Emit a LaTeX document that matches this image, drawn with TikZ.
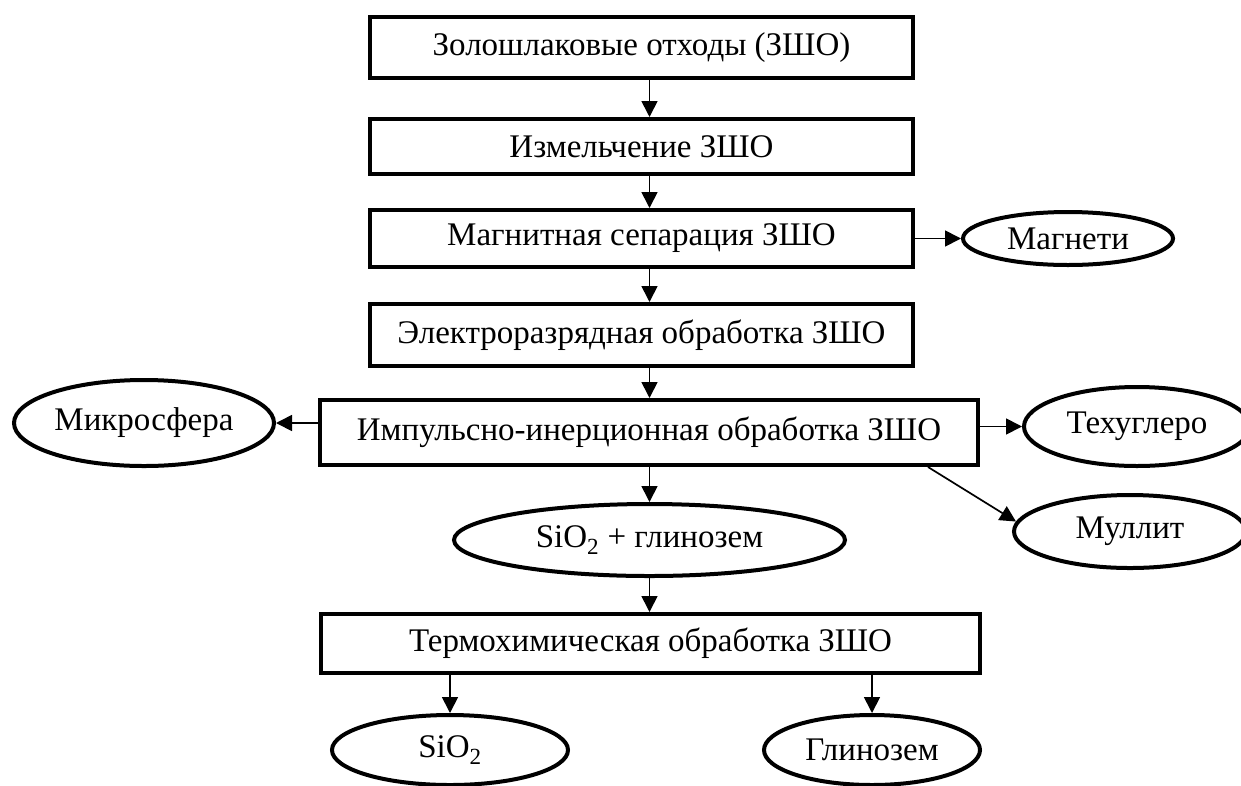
\documentclass[tikz,border=0pt]{standalone}
\usepackage{fontspec}
\setmainfont{Liberation Serif}
\usetikzlibrary{shapes.geometric,arrows.meta}
\tikzset{
  txt/.style={font=\fontsize{33}{40}\selectfont, inner sep=0pt},
  box/.style={txt, draw, line width=4pt, rectangle},
  oval/.style={txt, draw, line width=4pt, ellipse},
  arr/.style={line width=1.7pt, -{Triangle[length=16pt,width=16pt]}},
}
\begin{document}
\begin{tikzpicture}[x=1pt,y=-1pt]
\useasboundingbox (0,0) rectangle (1241,785);
\clip (0,0) rectangle (1241,785);
% main column
\node[box, minimum width=543pt, minimum height=61pt] (b1) at (641.5,47.5) {Золошлаковые отходы (ЗШО)};
\node[box, minimum width=543pt, minimum height=55pt] (b2) at (641.5,146.5) {Измельчение ЗШО};
\node[box, minimum width=543pt, minimum height=57pt] (b3) at (641.5,238.5) {Магнитная сепарация ЗШО};
\node[box, minimum width=543pt, minimum height=62pt] (b4) at (641.5,335) {Электроразрядная обработка ЗШО};
\node[box, minimum width=658pt, minimum height=65pt] (b5) at (649,432.5) {Импульсно-инерционная обработка ЗШО};
\node[oval, minimum width=391pt, minimum height=72pt] (sg) at (649.5,540) {SiO\textsubscript{2} + глинозем};
\node[box, minimum width=659pt, minimum height=59pt] (b7) at (650.5,643.5) {Термохимическая обработка ЗШО};
% side products
\node[oval, minimum width=210pt, minimum height=53pt] (mg) at (1068,238.5) {Магнети};
\node[oval, minimum width=260pt, minimum height=86pt] (mk) at (144,423) {Микросфера};
\node[oval, minimum width=226pt, minimum height=79pt] (th) at (1137,426.5) {Техуглеро};
\node[oval, minimum width=232pt, minimum height=73pt] (mu) at (1130,531.5) {Муллит};
\node[oval, minimum width=236pt, minimum height=70pt] (si) at (450,750) {SiO\textsubscript{2}};
\node[oval, minimum width=216pt, minimum height=70pt] (gl) at (872,750) {Глинозем};
% helper coordinates
\coordinate (ax) at (649.5,0);
\coordinate (dg) at (928,0);
% connectors
\draw[arr] (b1.south -| ax) -- (b2.north -| ax);
\draw[arr] (b2.south -| ax) -- (b3.north -| ax);
\draw[arr] (b3.south -| ax) -- (b4.north -| ax);
\draw[arr] (b4.south -| ax) -- (b5.north -| ax);
\draw[arr] (b3.east) -- (mg.west);
\draw[arr] (b5.west |- mk) -- (mk.east);
\draw[arr] (b5.east |- th) -- (th.west);
\draw[arr] (b5.south -| dg) -- (mu.175);
\draw[arr] (b5.south -| ax) -- (sg.north -| ax);
\draw[arr] (sg.south -| ax) -- (b7.north -| ax);
\draw[arr] (b7.south -| si) -- (si.north);
\draw[arr] (b7.south -| gl) -- (gl.north);
\end{tikzpicture}
\end{document}
